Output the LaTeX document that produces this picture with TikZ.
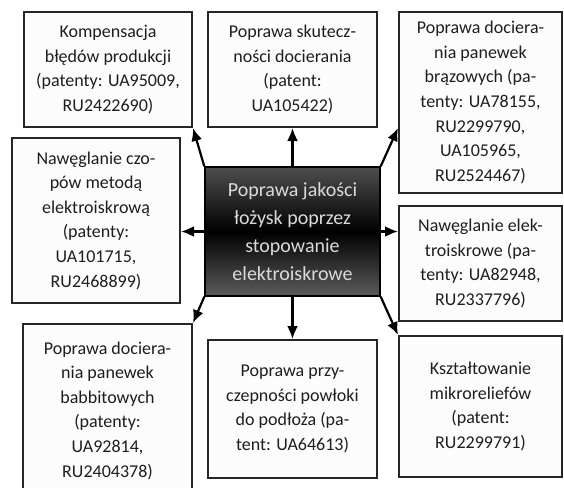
\documentclass[tikz,border=0pt]{standalone}
\usepackage{fontspec}
\setmainfont{Carlito}
\usepackage{tikz}
\usetikzlibrary{arrows.meta,positioning,calc}
\definecolor{pbline}{HTML}{262626}
\definecolor{pbtext}{HTML}{1E1E1E}
\definecolor{pbfill}{HTML}{FCFCFC}
\definecolor{hubtop}{HTML}{4E4E4E}
\definecolor{hubbot}{HTML}{5C5C5C}
\definecolor{hubtext}{HTML}{DADADA}

\begin{document}
\begin{tikzpicture}[x=0.5pt,y=-0.5pt, every node/.style={align=center,inner sep=0pt}]
\tikzset{patbox/.style={draw=pbline,line width=1pt,fill=pbfill,text=pbtext,font=\fontsize{9}{12.3}\selectfont}, hub/.style={draw=black,line width=0.7pt,top color=hubtop,bottom color=hubbot,middle color=black,text=hubtext,font=\fontsize{10}{14}\selectfont}, link/.style={-{Latex[length=6.5pt,width=5.5pt]},line width=1.1pt,black}}
\useasboundingbox (0,0) rectangle (564,488);
\clip (0,0) rectangle (564,488);
\fill[white] (0,0) rectangle (564,488);
\node[hub,minimum width=87.5pt,minimum height=64.5pt] (c) at (292.5,231.5) {Poprawa jakości\\łożysk poprzez\\stopowanie\\elektroiskrowe};
\node[patbox,minimum width=84pt,minimum height=57.5pt] (kom) at (108,69.5) {Kompensacja\\błędów produkcji\\(patenty: UA95009,\\RU2422690)};
\node[patbox,minimum width=84.5pt,minimum height=57.5pt] (sku) at (292.5,69.5) {Poprawa skutecz-\\ności docierania\\(patent:\\UA105422)};
\node[patbox,minimum width=81.5pt,minimum height=90.5pt] (brz) at (480.5,102.5) {Poprawa dociera-\\nia panewek\\brązowych (pa-\\tenty: UA78155,\\RU2299790,\\UA105965,\\RU2524467)};
\node[patbox,minimum width=84pt,minimum height=82.5pt] (czo) at (96,220.5) {Nawęglanie czo-\\pów metodą\\elektroiskrową\\(patenty:\\UA101715,\\RU2468899)};
\node[patbox,minimum width=81.5pt,minimum height=57.5pt] (ele) at (480.5,263.5) {Nawęglanie elek-\\troiskrowe (pa-\\tenty: UA82948,\\RU2337796)};
\node[patbox,minimum width=84.5pt,minimum height=86.5pt] (bab) at (107.5,410.5) {Poprawa dociera-\\nia panewek\\babbitowych\\(patenty:\\UA92814,\\RU2404378)};
\node[patbox,minimum width=84.5pt,minimum height=69pt] (prz) at (292.5,409) {Poprawa przy-\\czepności powłoki\\do podłoża (pa-\\tent: UA64613)};
\node[patbox,minimum width=81.5pt,minimum height=70.5pt] (mik) at (480.5,406.5) {Kształtowanie\\mikroreliefów\\(patent:\\RU2299791)};
\coordinate (brzin) at (brz.west |- 0,128);
\draw[link] (c.north west) -- (kom.south east);
\draw[link] (c.north) -- (sku.south);
\draw[link] (c.north east) -- (brzin);
\draw[link] (c.west) -- (c.west -| czo.east);
\draw[link] (c.east) -- (c.east -| ele.west);
\draw[link] (c.south west) -- (bab.north east);
\draw[link] (c.south) -- (prz.north);
\draw[link] (c.south east) -- (mik.north west);
\end{tikzpicture}
\end{document}
